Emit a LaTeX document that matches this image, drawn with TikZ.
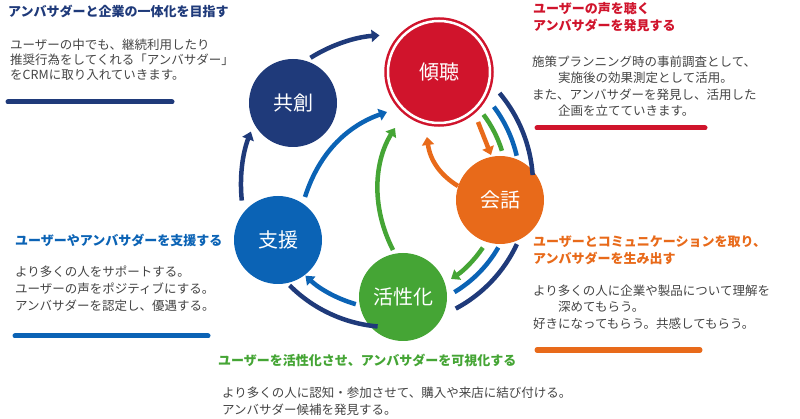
\documentclass[tikz,border=0pt]{standalone}
\usepackage{fontspec}
\setmainfont{Noto Sans CJK JP}
\usepackage{tikz}
\usetikzlibrary{arrows.meta, calc}
\definecolor{navy}{HTML}{1F3A7A}
\definecolor{mblue}{HTML}{0B63B5}
\definecolor{mgreen}{HTML}{45A535}
\definecolor{morange}{HTML}{E86A1A}
\definecolor{mred}{HTML}{D0142C}
\definecolor{txtgray}{HTML}{444444}
\tikzset{
  stage/.style={circle, minimum size=88pt, inner sep=0pt, text=white, font=\fontsize{20}{20}\selectfont},
  flow/.style={line width=4.5pt, -{Triangle[length=8pt,width=12pt]}},
  band/.style={line width=4.5pt},
  title/.style={anchor=west, font=\fontsize{13}{15}\bfseries\selectfont, inner sep=0pt},
  body/.style={anchor=west, text=txtgray, font=\fontsize{12.5}{15}\selectfont, inner sep=0pt},
  bar/.style={line width=5pt, line cap=round}
}
\begin{document}
\begin{tikzpicture}[x=1pt, y=-1pt]
    \useasboundingbox (0,0) rectangle (800,419);
    % circles
    \node[stage, fill=mred, draw=mred, line width=2.5pt, double=white, double distance=2.5pt, minimum size=102pt] (kei) at (439,72) {傾聴};
    \node[stage, fill=navy] (kyo) at (293,103) {共創};
    \node[stage, fill=mblue] (shi) at (278,240) {支援};
    \node[stage, fill=mgreen] (kas) at (403,297) {活性化};
    \node[stage, fill=morange] (kai) at (500,200) {会話};
    \coordinate (c) at (390,185);
    % navy outer cycle
    \draw[band, navy] ($(c)+(-40:143)$) arc (-40:-4:143);
    \draw[band, navy] ($(c)+(25:140)$) arc (25:62:140);
    \draw[band, navy] ($(c)+(95:142)$) arc (95:135:142);
    \draw[flow, navy] ($(c)+(174:149)$) arc (174:201:149);
    \draw[flow, navy] ($(c)+(238:150)$) arc (238:266:150);
    % blue
    \draw[band, mblue] ($(c)+(-37:130)$) arc (-37:-13:130);
    \draw[band, mblue] ($(c)+(30:125)$) arc (30:59:125);
    \draw[flow, mblue] ($(c)+(106:124)$) arc (106:133:124);
    \draw[flow, mblue] (305,197) .. controls (320,150) and (350,125) .. (387,112);
    % green
    \draw[band, mgreen] ($(c)+(-37:117)$) arc (-37:-17:117);
    \draw[flow, mgreen] ($(c)+(34:112)$) arc (34:57:112);
    \draw[flow, mgreen] (393,250) .. controls (370,205) and (375,160) .. (395,128);
    % orange
    \draw[flow, morange] (478,122) -- (491,155);
    \draw[flow, morange] (458,186) .. controls (440,175) and (430,160) .. (427,137);
    % texts
    \node[title, text=navy] (t1) at (8,11) {アンバサダーと企業の一体化を目指す};
    \node[body] (b1a) at (10,45) {ユーザーの中でも、継続利用したり};
    \node[body] (b1b) at (10,60) {推奨行為をしてくれる「アンバサダー」};
    \node[body] (b1c) at (10,75) {をCRMに取り入れていきます。};
    \draw[bar, navy] (8,102) -- (172,102);
    \node[title, text=mred] (t2a) at (533,9) {ユーザーの声を聴く};
    \node[title, text=mred] (t2b) at (533,25) {アンバサダーを発見する};
    \node[body] (b2a) at (532,62) {施策プランニング時の事前調査として、};
    \node[body] (b2b) at (558,78) {実施後の効果測定として活用。};
    \node[body] (b2c) at (532,95) {また、アンバサダーを発見し、活用した};
    \node[body] (b2d) at (558,111) {企画を立てていきます。};
    \draw[bar, mred] (537,128) -- (705,128);
    \node[title, text=morange] (t3a) at (533,242) {ユーザーとコミュニケーションを取り、};
    \node[title, text=morange] (t3b) at (533,258) {アンバサダーを生み出す};
    \node[body] (b3a) at (533,291) {より多くの人に企業や製品について理解を};
    \node[body] (b3b) at (558,307) {深めてもらう。};
    \node[body] (b3c) at (533,324) {好きになってもらう。共感してもらう。};
    \draw[bar, morange] (537,350) -- (700,350);
    \node[title, text=mblue] (t4) at (15,240) {ユーザーやアンバサダーを支援する};
    \node[body] (b4a) at (15,272) {より多くの人をサポートする。};
    \node[body] (b4b) at (15,289) {ユーザーの声をポジティブにする。};
    \node[body] (b4c) at (15,306) {アンバサダーを認定し、優遇する。};
    \draw[bar, mblue] (15,336) -- (208,336);
    \node[title, text=mgreen] (t5) at (218,360) {ユーザーを活性化させ、アンバサダーを可視化する};
    \node[body] (b5a) at (222,393) {より多くの人に認知・参加させて、購入や来店に結び付ける。};
    \node[body] (b5b) at (222,410) {アンバサダー候補を発見する。};
\end{tikzpicture}
\end{document}
